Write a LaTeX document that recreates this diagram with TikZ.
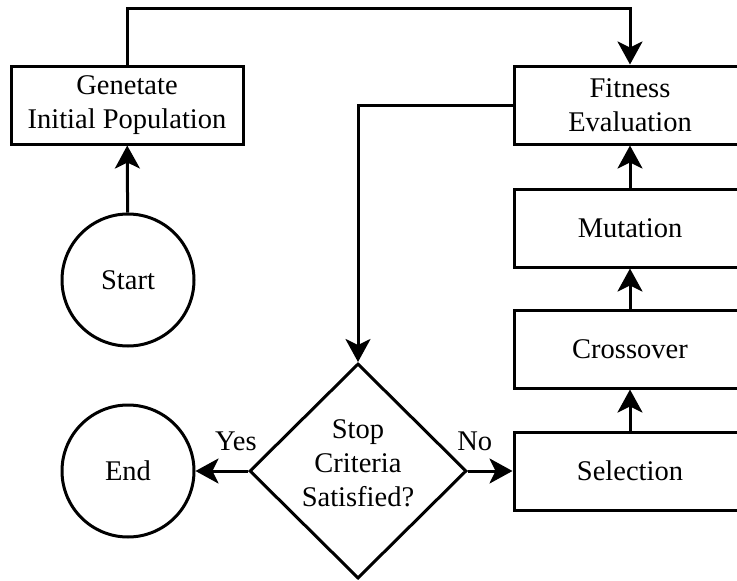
\documentclass[tikz,border=0pt]{standalone}
\usepackage{fontspec}
\setmainfont{Liberation Serif}
\usetikzlibrary{shapes.geometric,arrows.meta}
\begin{document}
\begin{tikzpicture}[x=1pt,y=-1pt,
  every node/.style={font=\fontsize{28.5}{34}\selectfont, align=center},
  procbox/.style={draw, line width=3pt, rectangle, minimum width=232pt, minimum height=78pt, inner sep=0pt},
  termcirc/.style={draw, line width=3pt, circle, minimum size=132pt, inner sep=0pt},
  decision/.style={draw, line width=3pt, diamond, minimum width=217pt, minimum height=215pt, inner sep=0pt},
  flow/.style={line width=3pt, -{Stealth[length=23pt,width=25pt,inset=6pt]}},
  lbl/.style={font=\fontsize{28.5}{30}\selectfont, inner sep=0pt}]
\useasboundingbox (0,0) rectangle (737,581);
\clip (0,0) rectangle (737,581);

% process boxes
\node[procbox] (init) at (127,105) {Genetate\\Initial Population};
\node[procbox] (fit) at (630,105) {Fitness\\Evaluation};
\node[procbox] (mut) at (630,228) {Mutation};
\node[procbox] (cross) at (630,349) {Crossover};
\node[procbox] (sel) at (630,471) {Selection};

% terminals
\node[termcirc] (start) at (128,280) {Start};
\node[termcirc] (end) at (128,471) {End};

% decision
\node[decision] (stop) at (358,471) {};
\node at (358,463) {Stop\\Criteria\\Satisfied?};

% connectors
\draw[flow] (start) -- (init);
\draw[flow] (init.north) |- (630,8) -- (fit.north);
\draw[flow] (fit.west) -| (stop.north);
\draw[flow] (stop.west) -- node[lbl, above=19pt, pos=0.23] {Yes} (end.east);
\draw[flow] (stop.east) -- node[lbl, above=19pt, pos=0.15] {No} (sel.west);
\draw[flow] (sel) -- (cross);
\draw[flow] (cross) -- (mut);
\draw[flow] (mut) -- (fit);
\end{tikzpicture}
\end{document}
